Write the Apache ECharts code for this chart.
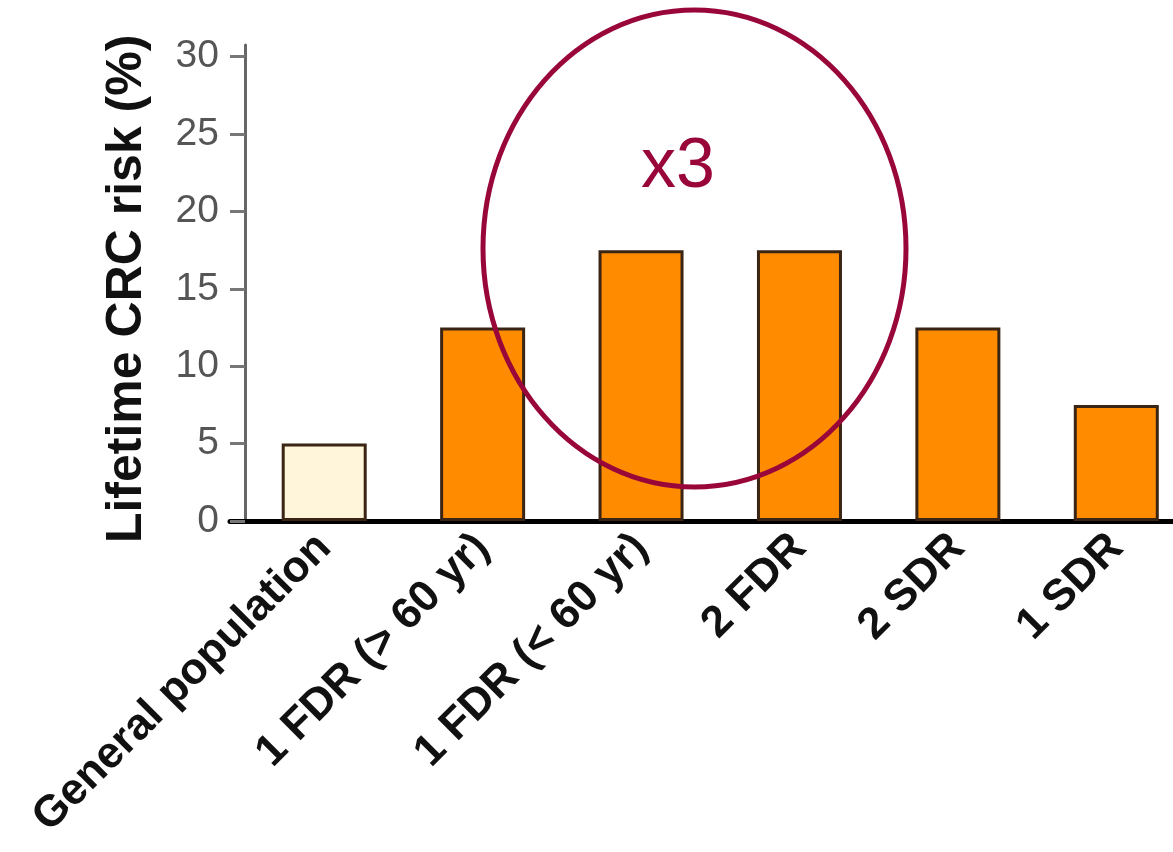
<!DOCTYPE html>
<html><head><meta charset="utf-8">
<script src="https://cdn.jsdelivr.net/npm/echarts@6/dist/echarts.min.js"></script>
<style>html,body{margin:0;padding:0;background:#fff}#c{width:1173px;height:852px}</style>
</head><body><div id="c"></div>
<script>
const categories = ['General population', '1 FDR (> 60 yr)', '1 FDR (< 60 yr)', '2 FDR', '2 SDR', '1 SDR'];
const riskValues = [5, 12.5, 17.5, 17.5, 12.5, 7.5];
const barColors = ['#FFF5DA', '#FF8C00', '#FF8C00', '#FF8C00', '#FF8C00', '#FF8C00'];
const yTickLabels = ['0', '5', '10', '15', '20', '25', '30'];
const yTitle = 'Lifetime CRC risk (%)';
const annotationText = 'x3';

const FONT = '"Liberation Sans", Arial, sans-serif';
const chart = echarts.init(document.getElementById('c'), null, {renderer: 'canvas'});

const option = {
  animation: false,
  backgroundColor: '#fff',
  grid: [
    {left: 245, top: 56.7, right: -22.5, bottom: 331, outerBoundsMode: 'none', containLabel: false},
    {left: 245, top: 45, width: 10, bottom: 331, outerBoundsMode: 'none', containLabel: false},
    {left: 230, top: 56.7, right: 0, bottom: 331, outerBoundsMode: 'none', containLabel: false}
  ],
  xAxis: [
    {
      gridIndex: 0, type: 'category', data: categories,
      axisLine: {show: false}, axisTick: {show: false}, splitLine: {show: false},
      axisLabel: {
        interval: 0, rotate: 45, margin: 20,
        fontSize: 44, fontWeight: 'bold', color: '#111', fontFamily: FONT
      }
    },
    {gridIndex: 1, type: 'value', show: false},
    {
      gridIndex: 2, type: 'value', min: 0, max: 1,
      axisLine: {show: true, onZero: false, lineStyle: {color: '#000', width: 5}},
      axisTick: {show: false}, axisLabel: {show: false}, splitLine: {show: false}
    }
  ],
  yAxis: [
    {
      gridIndex: 0, type: 'value', min: 0, max: 30, interval: 5,
      name: yTitle, nameLocation: 'middle', nameGap: 93, nameRotate: 90,
      nameTextStyle: {fontSize: 50, fontWeight: 'bold', color: '#111', fontFamily: FONT},
      axisLine: {show: true, lineStyle: {color: '#666', width: 3}},
      axisTick: {show: true, length: 15, lineStyle: {color: '#777', width: 3}},
      splitLine: {show: false},
      axisLabel: {
        margin: 26, fontSize: 39, color: '#555', fontFamily: FONT,
        formatter: (v) => yTickLabels[Math.round(v / 5)] ?? ''
      }
    },
    {
      gridIndex: 1, type: 'value', min: 0, max: 1,
      axisLine: {show: true, lineStyle: {color: '#666', width: 3}},
      axisTick: {show: false}, axisLabel: {show: false}, splitLine: {show: false}
    },
    {gridIndex: 2, type: 'value', show: false}
  ],
  series: [{
    type: 'bar', xAxisIndex: 0, yAxisIndex: 0,
    barWidth: 85,
    data: riskValues.map((v, i) => ({
      value: v,
      itemStyle: {color: barColors[i], borderColor: '#3a2414', borderWidth: 3}
    })),
    z: 2
  }],
  graphic: [
    {
      type: 'ellipse', z: 100,
      shape: {cx: 694.5, cy: 248.5, rx: 211.5, ry: 238.5},
      style: {fill: 'none', stroke: '#99063A', lineWidth: 5}
    },
    {
      type: 'text', z: 100, x: 678, y: 168,
      style: {text: annotationText, font: '70px ' + FONT, fill: '#99063A', textAlign: 'center', textVerticalAlign: 'middle'}
    }
  ]
};
chart.setOption(option);
</script>
</body></html>
